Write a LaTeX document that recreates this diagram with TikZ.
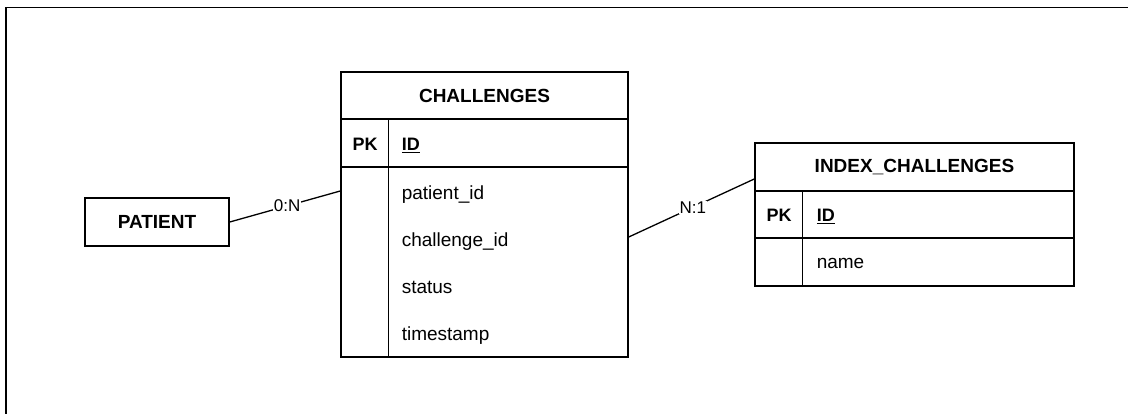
\documentclass[tikz,border=0pt]{standalone}
\usepackage{fontspec}
\setmainfont{Liberation Sans}
\begin{document}
\begin{tikzpicture}[x=1pt,y=-1pt,line width=1.5pt,
  cell/.style={draw,inner sep=0pt,minimum width=#1},
  hfont/.style={font=\fontsize{19}{23}\selectfont\bfseries},
  kfont/.style={font=\fontsize{18}{22}\selectfont\bfseries},
  ffont/.style={font=\fontsize{19}{23}\selectfont},
  lbl/.style={font=\fontsize{17}{20}\selectfont,fill=white,inner sep=1pt},
  txt/.style={inner sep=0pt}]
\useasboundingbox (0,0) rectangle (1128,414);
% outer frame (partly visible)
\draw[line width=1.8pt] (6,418) -- (6,7.5) -- (1132,7.5);

% PATIENT
\node[cell=144pt,minimum height=48pt,hfont] (patient) at (157,222) {PATIENT};

% CHALLENGES table
\node[cell=287pt,minimum height=47pt,hfont] (chead) at (484.5,95.5) {CHALLENGES};
\node[cell=287pt,minimum height=48pt] (cpk) at (484.5,143) {};
\node[cell=287pt,minimum height=190pt] (cbody) at (484.5,262) {};
\draw ([xshift=48pt]cpk.north west) -- ([xshift=48pt]cbody.south west);
\node[txt,kfont,anchor=base] (cpkl) at (365,150.5) {PK};
\node[txt,kfont,anchor=base west] (cid) at (401,150.5) {\underline{ID}};
\node[txt,ffont,anchor=base west] (cf1) at (401,199.3) {patient\_id};
\node[txt,ffont,anchor=base west] (cf2) at (401,246.8) {challenge\_id};
\node[txt,ffont,anchor=base west] (cf3) at (401,293.5) {status};
\node[txt,ffont,anchor=base west] (cf4) at (401,341) {timestamp};

% INDEX_CHALLENGES table
\node[cell=319pt,minimum height=48pt,hfont] (ihead) at (914.5,167) {INDEX\_CHALLENGES};
\node[cell=319pt,minimum height=47pt] (ipk) at (914.5,214.5) {};
\node[cell=319pt,minimum height=48pt] (ibody) at (914.5,262) {};
\draw ([xshift=48pt]ipk.north west) -- ([xshift=48pt]ibody.south west);
\node[txt,kfont,anchor=base] (ipkl) at (779,221.7) {PK};
\node[txt,kfont,anchor=base west] (iid) at (816,221.7) {\underline{ID}};
\node[txt,ffont,anchor=base west] (if1) at (816,268.3) {name};

% connectors
\draw[line width=1.3pt] (patient.east) -- node[lbl,pos=0.52] {0:N} ([yshift=71pt]cbody.west);
\draw[line width=1.3pt] ([yshift=25pt]cbody.east) -- node[lbl,pos=0.51] {N:1} ([yshift=-12pt]ihead.west);
\end{tikzpicture}
\end{document}
